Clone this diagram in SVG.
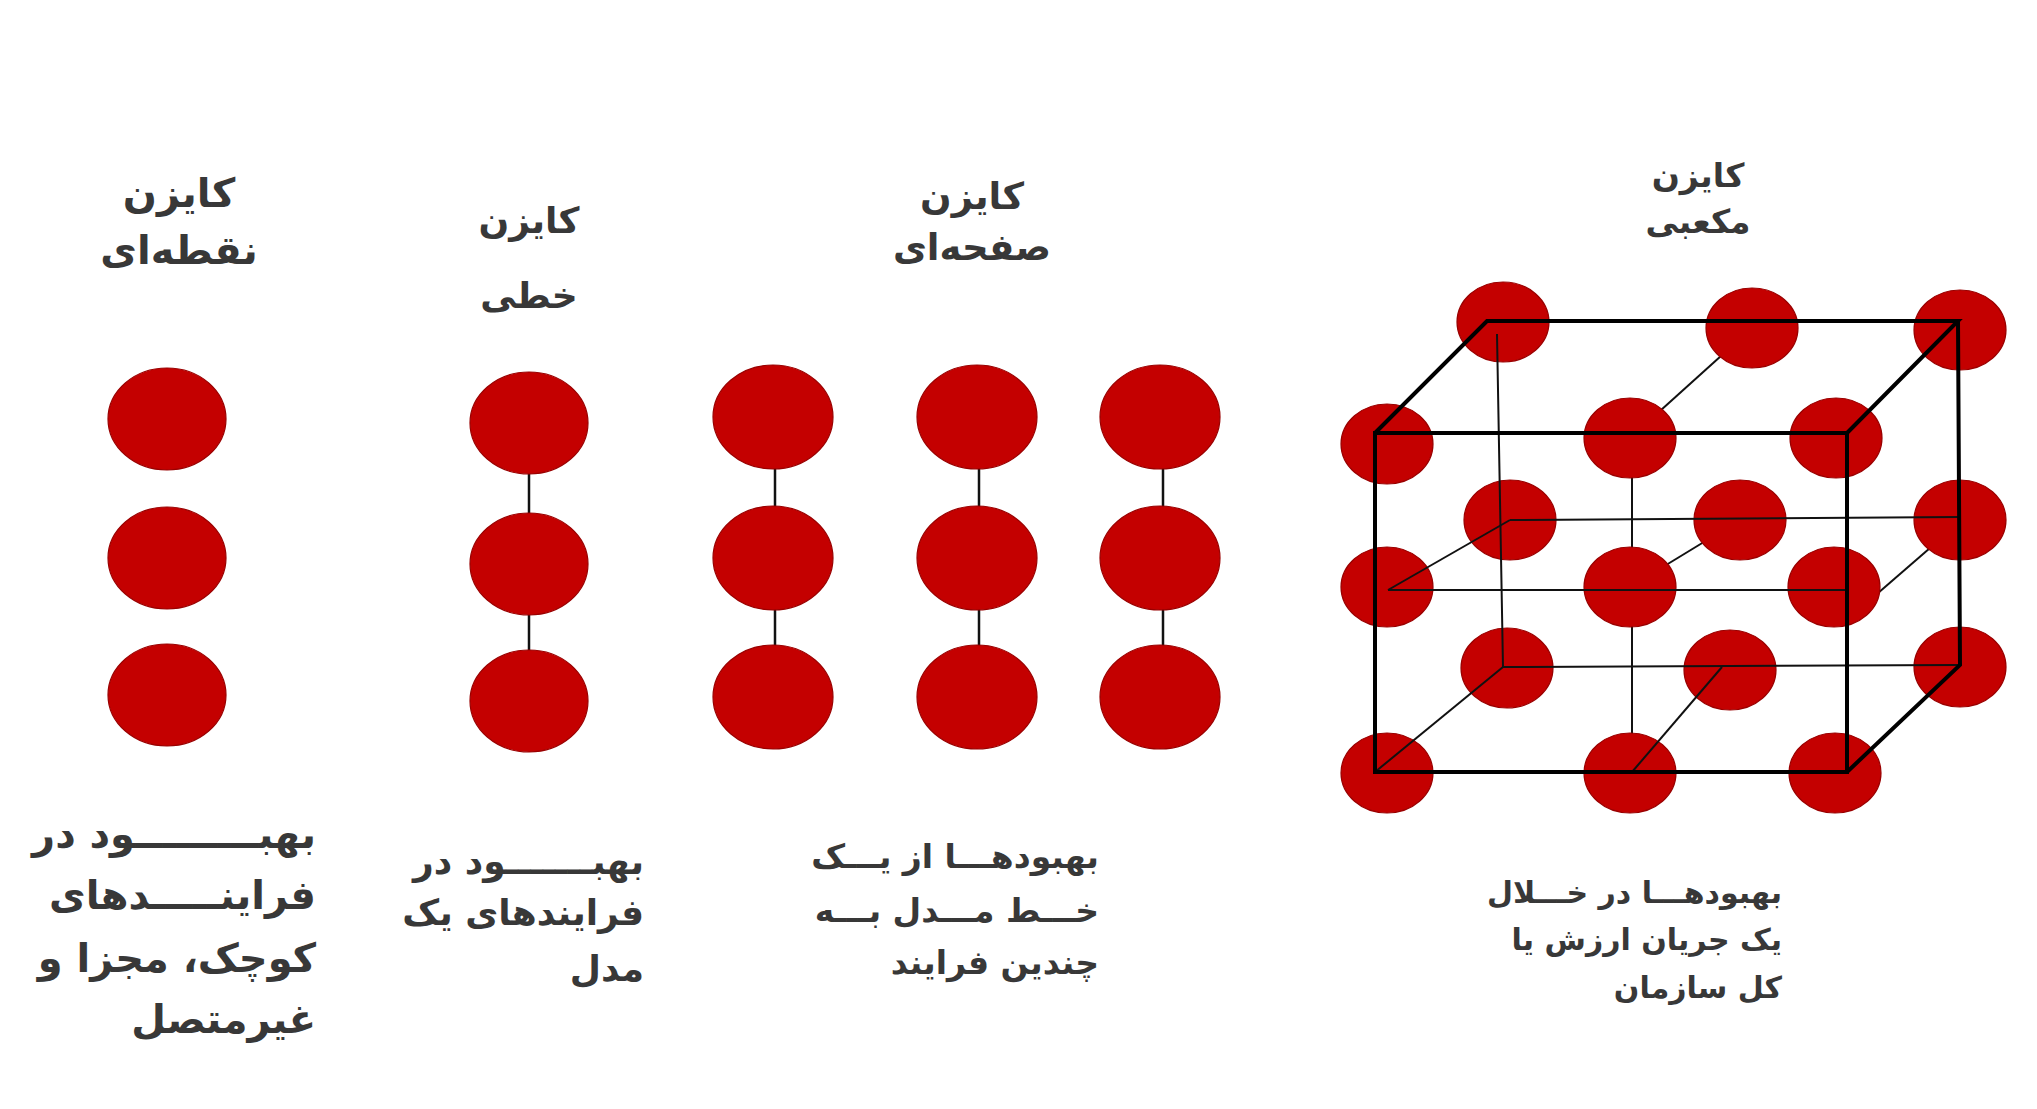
<svg xmlns="http://www.w3.org/2000/svg" width="2037" height="1109" viewBox="0 0 2037 1109">
<style>
.bg{fill:#ffffff}
.ball{fill:#c40000;stroke:#9a0000;stroke-width:1.2}
.conn{stroke:#111;stroke-width:2.5;fill:none}
.thin{stroke:#111;stroke-width:2;fill:none}
.thick{stroke:#000;stroke-width:4;fill:none;stroke-linejoin:miter}
.t{font-family:"DejaVu Sans",sans-serif;font-weight:bold;fill:#383838;text-anchor:middle}
.b{font-family:"DejaVu Sans",sans-serif;font-weight:bold;fill:#383838;text-anchor:end}
</style>
<rect class="bg" x="0" y="0" width="2037" height="1109"/>

<g id="connectors">
  <line class="conn" x1="529" y1="425" x2="529" y2="701"/>
  <line class="conn" x1="775" y1="417" x2="775" y2="697"/>
  <line class="conn" x1="979" y1="417" x2="979" y2="697"/>
  <line class="conn" x1="1163" y1="417" x2="1163" y2="697"/>
  <line class="thin" x1="1632" y1="438" x2="1632" y2="772"/>
  <line class="thin" x1="1630" y1="438" x2="1752" y2="328"/>
  <line class="thin" x1="1630" y1="587" x2="1740" y2="520"/>
  <line class="thin" x1="1870" y1="600" x2="1945" y2="535"/>
</g>

<g id="point-kaizen">
  <ellipse class="ball" cx="167" cy="419" rx="59" ry="51"/>
  <ellipse class="ball" cx="167" cy="558" rx="59" ry="51"/>
  <ellipse class="ball" cx="167" cy="695" rx="59" ry="51"/>
  <text class="t" x="179" y="207" font-size="40">کایزن</text>
  <text class="t" x="179" y="264" font-size="40">نقطه‌ای</text>
  <text class="b" x="316" y="848" font-size="40">بهبـــــــــود در</text>
  <text class="b" x="316" y="909" font-size="40">فراینـــــدهای</text>
  <text class="b" x="316" y="972" font-size="40">کوچک، مجزا و</text>
  <text class="b" x="316" y="1033" font-size="40">غیرمتصل</text>
</g>

<g id="line-kaizen">
  <ellipse class="ball" cx="529" cy="423" rx="59" ry="51"/>
  <ellipse class="ball" cx="529" cy="564" rx="59" ry="51"/>
  <ellipse class="ball" cx="529" cy="701" rx="59" ry="51"/>
  <text class="t" x="529" y="233" font-size="36">کایزن</text>
  <text class="t" x="529" y="308" font-size="36">خطی</text>
  <text class="b" x="644" y="874" font-size="36">بهبـــــــود در</text>
  <text class="b" x="644" y="925" font-size="36">فرایندهای  یک</text>
  <text class="b" x="644" y="981" font-size="36">مدل</text>
</g>

<g id="plane-kaizen">
  <ellipse class="ball" cx="773" cy="417" rx="60" ry="52"/>
  <ellipse class="ball" cx="773" cy="558" rx="60" ry="52"/>
  <ellipse class="ball" cx="773" cy="697" rx="60" ry="52"/>
  <ellipse class="ball" cx="977" cy="417" rx="60" ry="52"/>
  <ellipse class="ball" cx="977" cy="558" rx="60" ry="52"/>
  <ellipse class="ball" cx="977" cy="697" rx="60" ry="52"/>
  <ellipse class="ball" cx="1160" cy="417" rx="60" ry="52"/>
  <ellipse class="ball" cx="1160" cy="558" rx="60" ry="52"/>
  <ellipse class="ball" cx="1160" cy="697" rx="60" ry="52"/>
  <text class="t" x="972" y="209" font-size="37">کایزن</text>
  <text class="t" x="972" y="260" font-size="37">صفحه‌ای</text>
  <text class="b" x="1099" y="868" font-size="33">بهبودهـــا از یـــک</text>
  <text class="b" x="1099" y="922" font-size="33">خـــط مـــدل بـــه</text>
  <text class="b" x="1099" y="974" font-size="33">چندین فرایند</text>
</g>

<g id="cube-kaizen">
  <ellipse class="ball" cx="1503" cy="322" rx="46" ry="40"/>
  <ellipse class="ball" cx="1752" cy="328" rx="46" ry="40"/>
  <ellipse class="ball" cx="1960" cy="330" rx="46" ry="40"/>
  <ellipse class="ball" cx="1387" cy="444" rx="46" ry="40"/>
  <ellipse class="ball" cx="1630" cy="438" rx="46" ry="40"/>
  <ellipse class="ball" cx="1836" cy="438" rx="46" ry="40"/>
  <ellipse class="ball" cx="1510" cy="520" rx="46" ry="40"/>
  <ellipse class="ball" cx="1740" cy="520" rx="46" ry="40"/>
  <ellipse class="ball" cx="1960" cy="520" rx="46" ry="40"/>
  <ellipse class="ball" cx="1387" cy="587" rx="46" ry="40"/>
  <ellipse class="ball" cx="1630" cy="587" rx="46" ry="40"/>
  <ellipse class="ball" cx="1834" cy="587" rx="46" ry="40"/>
  <ellipse class="ball" cx="1507" cy="668" rx="46" ry="40"/>
  <ellipse class="ball" cx="1730" cy="670" rx="46" ry="40"/>
  <ellipse class="ball" cx="1960" cy="667" rx="46" ry="40"/>
  <ellipse class="ball" cx="1387" cy="773" rx="46" ry="40"/>
  <ellipse class="ball" cx="1630" cy="773" rx="46" ry="40"/>
  <ellipse class="ball" cx="1835" cy="773" rx="46" ry="40"/>
  <text class="t" x="1698" y="187" font-size="33">کایزن</text>
  <text class="t" x="1698" y="233" font-size="33">مکعبی</text>
  <text class="b" x="1782" y="903" font-size="30">بهبودهـــا در خـــلال</text>
  <text class="b" x="1782" y="950" font-size="30">یک جریان ارزش یا</text>
  <text class="b" x="1782" y="998" font-size="30">کل سازمان</text>
</g>

<g id="cube-lines">
  <polyline class="thin" points="1497,334 1503,667 1958,665"/>
  <line class="thin" x1="1510" y1="520" x2="1960" y2="517"/>
  <line class="thin" x1="1388" y1="590" x2="1847" y2="590"/>
  <line class="thin" x1="1388" y1="590" x2="1510" y2="520"/>
  <line class="thin" x1="1375" y1="772" x2="1503" y2="667"/>
  <line class="thin" x1="1632" y1="772" x2="1722" y2="667"/>
  <rect class="thick" x="1375" y="433" width="472" height="339"/>
  <polyline class="thick" points="1375,433 1487,321 1958,321 1847,433"/>
  <polyline class="thick" points="1958,321 1960,665 1847,772"/>
</g>
</svg>
